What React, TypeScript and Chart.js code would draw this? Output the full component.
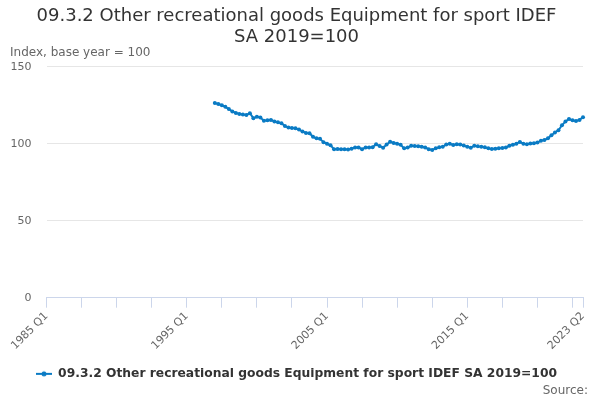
import React, { useEffect, useRef } from "react";
import { Chart, registerables } from "chart.js";

Chart.register(...registerables);

const TITLE_LINES = ["09.3.2 Other recreational goods Equipment for sport IDEF", "SA 2019=100"];
const SERIES_NAME = "09.3.2 Other recreational goods Equipment for sport IDEF SA 2019=100";
const Y_AXIS_TITLE = "Index, base year = 100";
const SOURCE_TEXT = "Source:";

const FIRST_YEAR = 1985;
const LAST_YEAR = 2023;
const LAST_QUARTER = 2;
const SERIES_START = "1997 Q1";

const Y_TICKS = [0, 50, 100, 150];

// Quarterly values from 1997 Q1 to 2023 Q2
const seriesValues: number[] = [
  126.4, 125.8, 125.0, 124.0, 122.5, 121.0, 120.0, 119.4, 119.0, 118.7,
  119.8, 116.6, 117.6, 117.0, 115.0, 115.2, 115.5, 114.5, 114.0, 113.3,
  111.5, 110.5, 110.2, 110.0, 109.2, 108.0, 107.0, 106.8, 104.5, 103.5,
  103.2, 101.0, 100.0, 99.0, 96.5, 96.6, 96.5, 96.4, 96.3, 96.8,
  97.6, 97.5, 96.5, 97.6, 97.5, 97.8, 99.6, 98.5, 97.4, 99.5,
  101.3, 100.5, 100.0, 99.3, 97.0, 97.5, 98.7, 98.5, 98.4, 98.0,
  97.6, 96.5, 96.0, 97.0, 97.7, 98.0, 99.5, 100.0, 99.2, 99.7,
  99.5, 98.8, 98.0, 97.4, 98.7, 98.3, 98.0, 97.8, 97.0, 96.6,
  96.8, 97.0, 97.2, 97.6, 98.7, 99.3, 100.0, 101.2, 100.0, 99.7,
  100.2, 100.4, 100.8, 102.0, 102.4, 103.5, 105.5, 107.3, 108.8, 112.0,
  114.5, 116.1, 115.2, 114.8, 115.5, 117.2,
];

const quarterLabels: string[] = [];
for (let y = FIRST_YEAR; y <= LAST_YEAR; y++) {
  for (let q = 1; q <= 4; q++) {
    if (y === LAST_YEAR && q > LAST_QUARTER) break;
    quarterLabels.push(`${y} Q${q}`);
  }
}

const startIndex = quarterLabels.indexOf(SERIES_START);
const fullData: (number | null)[] = quarterLabels.map((_, i) =>
  i >= startIndex && i - startIndex < seriesValues.length ? seriesValues[i - startIndex] : null
);

const LINE_COLOR = "#0a7bc4";
const FONT = "'DejaVu Sans', sans-serif";

function makeLegendMarker(): HTMLCanvasElement {
  const c = document.createElement("canvas");
  c.width = 16;
  c.height = 8;
  const ctx = c.getContext("2d")!;
  ctx.strokeStyle = LINE_COLOR;
  ctx.lineWidth = 2;
  ctx.beginPath();
  ctx.moveTo(0, 4);
  ctx.lineTo(16, 4);
  ctx.stroke();
  ctx.fillStyle = LINE_COLOR;
  ctx.beginPath();
  ctx.arc(8, 4, 2.5, 0, Math.PI * 2);
  ctx.fill();
  return c;
}

export default function App() {
  const ref = useRef<HTMLCanvasElement | null>(null);

  useEffect(() => {
    document.body.style.margin = "0";
    if (!ref.current) return;
    const lastIndex = quarterLabels.length - 1;

    const extras = {
      id: "extras",
      beforeDraw(chart: any) {
        const { ctx } = chart;
        ctx.save();
        ctx.fillStyle = "#ffffff";
        ctx.fillRect(0, 0, chart.width, chart.height);
        ctx.restore();
      },
      afterDraw(chart: any) {
        const { ctx } = chart;
        ctx.save();
        ctx.font = `12px ${FONT}`;
        ctx.fillStyle = "#666666";
        ctx.textAlign = "right";
        ctx.textBaseline = "middle";
        ctx.fillText(SOURCE_TEXT, chart.width - 12, chart.height - 9);
        ctx.restore();
      },
    };

    const chart = new Chart(ref.current, {
      type: "line",
      data: {
        labels: quarterLabels,
        datasets: [
          {
            label: SERIES_NAME,
            data: fullData,
            borderColor: LINE_COLOR,
            backgroundColor: LINE_COLOR,
            borderWidth: 2,
            pointRadius: 2,
            pointBorderWidth: 0,
            pointHoverRadius: 3,
            tension: 0,
            spanGaps: false,
          },
        ],
      },
      options: {
        responsive: false,
        animation: false,
        layout: { padding: { left: 10, right: 17, top: 0, bottom: 10 } },
        plugins: {
          title: {
            display: true,
            text: TITLE_LINES,
            color: "#333333",
            font: { family: FONT, size: 18, weight: "normal", lineHeight: 1.18 },
            padding: { top: 5.4, bottom: -1.9 },
          },
          subtitle: {
            display: true,
            text: Y_AXIS_TITLE,
            align: "start",
            color: "#666666",
            font: { family: FONT, size: 12, weight: "normal", lineHeight: 1.2 },
            padding: { top: 0, bottom: 6.4 },
          },
          legend: {
            position: "bottom",
            labels: {
              usePointStyle: true,
              pointStyle: makeLegendMarker() as any,
              pointStyleWidth: 16,
              color: "#333333",
              font: { family: FONT, size: 12.3, weight: "bold" },
              padding: 10,
            },
          },
          tooltip: { enabled: false },
        },
        scales: {
          x: {
            type: "category",
            afterFit(scale: any) {
              scale.height = 60;
            },
            grid: {
              drawOnChartArea: false,
              tickLength: 10,
              color: (c: any) =>
                c.index % 10 === 0 || c.index === lastIndex ? "#ccd6eb" : "rgba(0,0,0,0)",
              tickColor: (c: any) =>
                c.index % 10 === 0 || c.index === lastIndex ? "#ccd6eb" : "rgba(0,0,0,0)",
            },
            border: { color: "#ccd6eb", width: 1 },
            ticks: {
              autoSkip: false,
              maxRotation: 45,
              minRotation: 45,
              padding: 2,
              color: "#666666",
              font: { family: FONT, size: 11 },
              callback: (_v: any, i: number) =>
                i % 40 === 0 || i === lastIndex ? quarterLabels[i] : "",
            },
          },
          y: {
            min: Y_TICKS[0],
            max: Y_TICKS[Y_TICKS.length - 1],
            afterFit(scale: any) {
              scale.width = 36.5;
            },
            afterBuildTicks(scale: any) {
              scale.ticks = Y_TICKS.map((v) => ({ value: v }));
            },
            grid: { color: "#e6e6e6", drawTicks: false },
            border: { display: false },
            ticks: {
              padding: 15,
              color: "#666666",
              font: { family: FONT, size: 11 },
            },
          },
        },
      },
      plugins: [extras],
    } as any);

    return () => chart.destroy();
  }, []);

  return (
    <div style={{ width: 600, height: 400 }}>
      <canvas ref={ref} width={600} height={400} />
    </div>
  );
}
